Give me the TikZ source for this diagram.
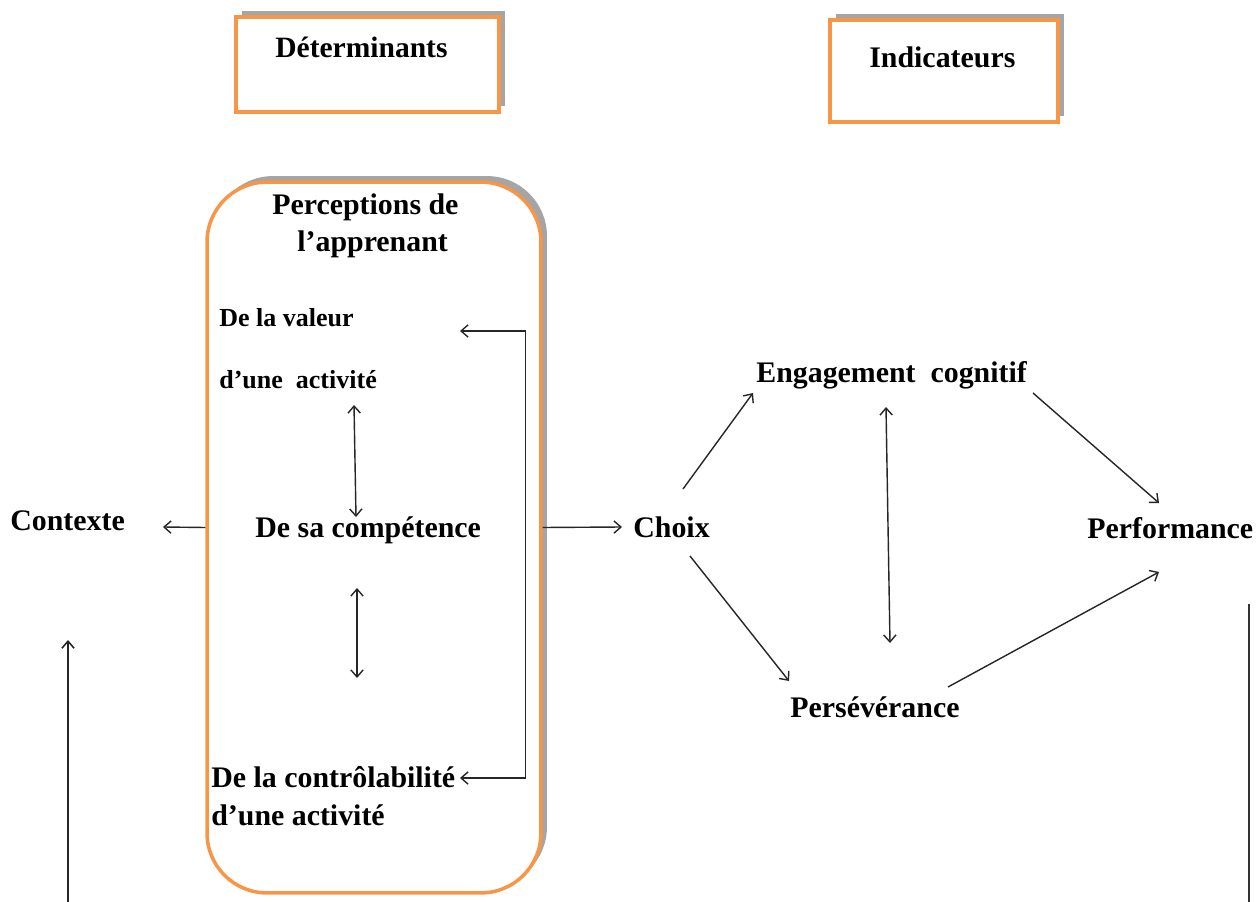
\documentclass[tikz,border=0pt]{standalone}
\usepackage{fontspec}
\setmainfont{Liberation Serif}
\usetikzlibrary{arrows.meta,calc,shadows}
\definecolor{boxorange}{HTML}{F79646}
\definecolor{shadowgray}{HTML}{A5A5A5}
\begin{document}
\begin{tikzpicture}[x=0.02cm,y=-0.02cm,
  lbl/.style={font=\fontsize{17}{20}\selectfont\bfseries, inner sep=0pt, anchor=base west},
  small/.style={lbl, font=\fontsize{14.8}{17}\selectfont\bfseries},
  head/.style={lbl, font=\fontsize{16.8}{18}\selectfont\bfseries},
  hbox/.style={draw=boxorange, line width=2.2pt, fill=white, inner sep=0pt,
    drop shadow={shadow xshift=0.12cm, shadow yshift=0.12cm, fill=shadowgray, opacity=1}},
  conn/.style={line width=0.8pt, draw=black!85, -{Straight Barb[length=4pt,width=7pt]}},
  dconn/.style={line width=0.8pt, draw=black!85, {Straight Barb[length=4pt,width=7pt]}-{Straight Barb[length=4pt,width=7pt]}},
  plain/.style={line width=0.9pt, draw=black!80}
]
\useasboundingbox (0,0) rectangle (1258,902);

% boxes
\node[hbox, minimum width=5.26cm, minimum height=1.9cm] (detbox) at (367.5,64.5) {};
\node[hbox, minimum width=4.56cm, minimum height=2.04cm] (indbox) at (944,71) {};
\node[hbox, line width=2pt, rounded corners=1.2cm, minimum width=6.68cm, minimum height=14.22cm] (percep) at (374,537.5) {};

% texts
\node[head] (det) at (275,58) {Déterminants};
\node[lbl] (ind) at (869,68) {Indicateurs};
\node[lbl] (perc1) at (272,215) {Perceptions de};
\node[lbl] (perc2) at (297,252) {l’apprenant};
\node[small] (val1) at (219,327) {De la valeur};
\node[small] (val2) at (219,388) {d’une\ \ activité};
\node[lbl] (comp) at (255,537) {De sa compétence};
\node[lbl] (ctrl1) at (211,787) {De la contrôlabilité};
\node[lbl] (ctrl2) at (211,825) {d’une activité};
\node[lbl] (ctx) at (10,530) {Contexte};
\node[lbl] (choix) at (633,537) {Choix};
\node[lbl] (eng) at (756,382) {Engagement\ \ cognitif};
\node[lbl] (pers) at (790,717) {Persévérance};
\node[lbl] (perf) at (1087,538) {Performance};

% connectors
\draw[conn] ($(percep.east)+(0,-10)$) -- ($(choix.base west)+(-11,-10)$);
\draw[conn] ($(percep.west)+(0,-10)$) -- ($(ctx.base west)+(153,-3)$);
\draw[conn] ($(choix.base west)+(50,-48)$) -- ($(eng.base west)+(-3,11)$);
\draw[conn] ($(choix.base west)+(57,19)$) -- ($(pers.base west)+(-1,-36)$);
\draw[dconn] ($(eng.base west)+(130,25)$) -- ($(pers.base west)+(100,-74)$);
\draw[conn] ($(eng.base west)+(277,11)$) -- ($(perf.base west)+(72,-35)$);
\draw[conn] ($(pers.base west)+(158,-30)$) -- ($(perf.base west)+(72,34)$);
\draw[dconn] ($(val2.base west)+(135,17)$) -- ($(comp.base west)+(101,-20)$);
\draw[dconn] ($(comp.base west)+(102,51)$) -- ($(ctrl1.base west)+(146,-109)$);
\draw[dconn] ($(val1.base west)+(241,4)$) -| ($(percep.east)+(-17,0)$) |- ($(ctrl1.base west)+(249,-9)$);

% free lines
\coordinate (lb) at (68,902);
\coordinate (lt) at (68,640);
\draw[conn, line width=0.9pt] (lb) -- (lt);
\coordinate (rt) at (1249,604);
\coordinate (rb) at (1249,902);
\draw[plain] (rt) -- (rb);
\end{tikzpicture}
\end{document}
